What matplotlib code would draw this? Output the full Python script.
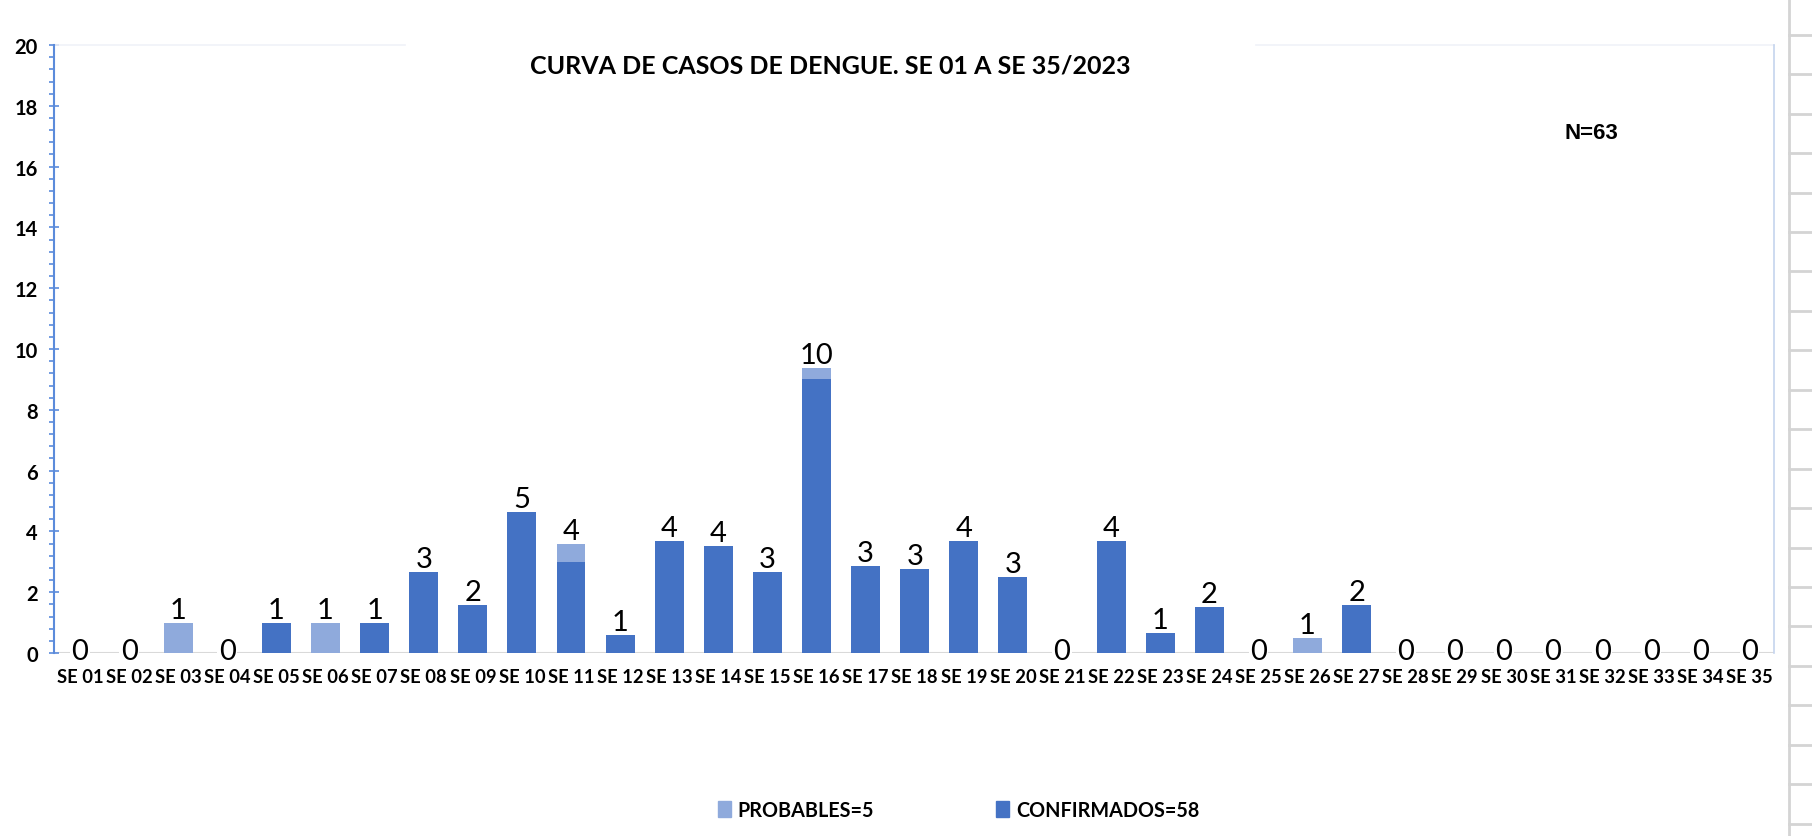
import numpy as np
import matplotlib
matplotlib.use('Agg')
import matplotlib.pyplot as plt
from matplotlib.lines import Line2D
from matplotlib.patches import Patch

# semanas epidemiologicas
weeks = ['SE %02d' % i for i in range(1, 36)]

# alturas de las barras tal como se ven en el grafico
confirmados = [0, 0, 0, 0, 1.0, 0, 1.0, 2.68, 1.57, 4.64, 3.0, 0.58, 3.7, 3.52, 2.65,
               9.0, 2.87, 2.76, 3.67, 2.49, 0, 3.67, 0.66, 1.52, 0, 0, 1.58,
               0, 0, 0, 0, 0, 0, 0, 0]
probables = [0, 0, 1.0, 0, 0, 1.0, 0, 0, 0, 0, 0.6, 0, 0, 0, 0,
             0.36, 0, 0, 0, 0, 0, 0, 0, 0, 0, 0.49, 0,
             0, 0, 0, 0, 0, 0, 0, 0]
# etiquetas (casos totales por semana)
totales = [0, 0, 1, 0, 1, 1, 1, 3, 2, 5, 4, 1, 4, 4, 3,
           10, 3, 3, 4, 3, 0, 4, 1, 2, 0, 1, 2,
           0, 0, 0, 0, 0, 0, 0, 0]

c_conf = '#4472C4'
c_prob = '#8FAADC'
c_axis = '#5B8BDB'

fig = plt.figure(figsize=(18.12, 8.37), dpi=100)
ax = fig.add_axes([0.0298, 0.2186, 0.9492, 0.7264])

x = np.arange(len(weeks))
conf = np.array(confirmados)
prob = np.array(probables)
ax.bar(x, conf, width=0.59, color=c_conf, zorder=2)
ax.bar(x, prob, width=0.59, bottom=conf, color=c_prob, zorder=2)

ax.axhline(0, color='#D9D9D9', lw=1.5, zorder=1)

box = dict(boxstyle='square,pad=0.05', fc='white', ec='none')
for xi, top, lab in zip(x, conf + prob, totales):
    if lab == 0:
        # el cuadro blanco de la etiqueta tapa la linea base
        ax.text(xi, 0.08, '0', ha='center', va='center', fontsize=21,
                family='Lato', color='black', zorder=4, bbox=box)
    else:
        ax.annotate(str(lab), (xi, top), xytext=(0, 0), textcoords='offset points',
                    ha='center', va='bottom', fontsize=21, family='Lato',
                    color='black', zorder=4)

ax.set_xlim(-0.53, 34.5)
ax.set_ylim(0, 20)
ax.set_xticks(x)
ax.set_xticklabels(weeks, fontsize=13.2, fontweight='bold', family='Lato')
ax.tick_params(axis='x', length=0, pad=10.5)
ax.set_yticks(np.arange(0, 21, 2))
ax.set_yticks(np.arange(0, 20.01, 0.4), minor=True)
ax.tick_params(axis='y', which='major', direction='inout', length=7.2, width=1.2,
               color=c_axis, labelsize=14.5, pad=8)
ax.tick_params(axis='y', which='minor', direction='out', length=3.6, width=1.2, color=c_axis)
for lab in ax.get_yticklabels():
    lab.set_fontweight('bold')
    lab.set_family('Lato')

ax.spines['left'].set_color(c_axis)
ax.spines['left'].set_linewidth(1.5)
ax.spines['bottom'].set_visible(False)
ax.spines['top'].set_visible(False)
ax.spines['right'].set_color('#C5D4EE')
ax.spines['right'].set_linewidth(1.2)

# linea superior tenue, interrumpida por el cuadro del titulo
ax.plot([0, 0.204], [1, 1], transform=ax.transAxes, color='#F0F2F8', lw=1.2, clip_on=False)
ax.plot([0.699, 1], [1, 1], transform=ax.transAxes, color='#F0F2F8', lw=1.2, clip_on=False)

fig.text(0.458, 0.921, 'CURVA DE CASOS DE DENGUE. SE 01 A SE 35/2023', ha='center',
         va='center', fontsize=18, fontweight='bold', family='Lato')
fig.text(0.8785, 0.841, 'N=63', ha='center', va='center', fontsize=16,
         fontweight='bold', family='Liberation Sans')

handles = [Patch(color=c_prob, label='PROBABLES=5'),
           Patch(color=c_conf, label='CONFIRMADOS=58')]
leg = fig.legend(handles=handles, loc='center', bbox_to_anchor=(0.529, 0.031), ncol=2,
                 frameon=False, handlelength=0.65, handleheight=0.85, handletextpad=0.35,
                 columnspacing=6.2, prop={'family': 'Lato', 'weight': 'bold', 'size': 14.2})

# restos de la hoja de calculo a la derecha
fig.add_artist(Line2D([1789 / 1812] * 2, [0, 1], color='#D4D4D4', lw=2))
for k in range(21):
    yy = 1 - (35.7 + k * 39.45) / 837
    fig.add_artist(Line2D([1789 / 1812, 1], [yy, yy], color='#D4D4D4', lw=2))

fig.savefig('out.png', dpi=100, facecolor='white')
